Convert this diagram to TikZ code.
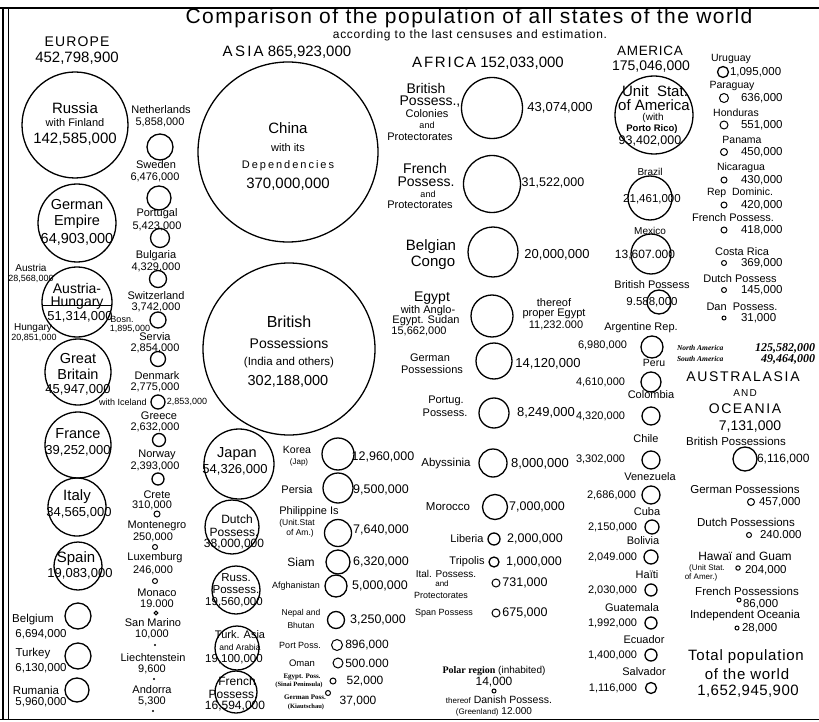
\documentclass[tikz,border=0pt]{standalone}
\usepackage{fontspec}
\setmainfont{Liberation Sans}
\newfontfamily\oldserif{Liberation Serif}
\newcommand\fz[1]{\fontsize{#1}{#1}\selectfont}
\newcommand\ls[1]{\addfontfeature{LetterSpace=#1}}
\begin{document}
\begin{tikzpicture}[x=1pt,y=-1pt,
  ball/.style={circle,draw,line width=1.3pt,inner sep=0pt,outer sep=0pt},
  sball/.style={circle,draw,line width=1pt,inner sep=0pt,outer sep=0pt},
  dotb/.style={circle,fill,inner sep=0pt,minimum size=2.4pt},
  lbl/.style={inner sep=0pt,outer sep=0pt,align=center,font=\fz{11}},
  frameline/.style={line width=1.2pt}]
\newcommand\bigc[4]{\node[ball,minimum size=#4*2pt] (#1) at (#2,#3) {};}
\newcommand\smc[4]{\node[sball,minimum size=#4*2pt] (#1) at (#2,#3) {};}
\newcommand\dotc[3]{\node[dotb] (#1) at (#2,#3) {};}
\newcommand\tx[5][]{\node[lbl,#1] (#2) at (#3,#4) {#5};}
\useasboundingbox (0,0) rectangle (819,722);
% frame
\draw[line width=2pt] (0,8) -- (819,8);
\draw[line width=1.6pt] (3,8) -- (3,719);
\draw[line width=0.8pt] (8,8) -- (8,719);
\draw[line width=1pt] (0,719) -- (819,719);
% title
\tx[font=\fz{21}\ls{7}]{title}{469}{18}{Comparison of the population of all states of the world}
\tx[font=\fz{12}\ls{6}]{sub}{470}{35}{according to the last censuses and estimation.}
% ===== EUROPE =====
\tx[font=\fz{14}\ls{8}]{eu}{77}{42}{EUROPE}
\tx[font=\fz{15}]{eun}{77}{58}{452,798,900}
\bigc{russia}{75}{125}{53}
\tx[font=\fz{15}]{rus1}{75}{108}{Russia}
\tx[font=\fz{11}]{rus2}{75}{123}{with Finland}
\tx[font=\fz{15}]{rus3}{75}{139}{142,585,000}
\bigc{germ}{77}{223}{39}
\tx[font=\fz{14.5}]{ge1}{77}{205}{German}
\tx[font=\fz{14.5}]{ge2}{77}{222}{Empire}
\tx[font=\fz{14.5}]{ge3}{77}{239}{64,903,000}
\bigc{ah}{77}{302}{35}
\draw[line width=1.1pt] (ah.186) -- (ah.354);
\tx[font=\fz{14}]{ah1}{77}{288}{Austria-}
\tx[font=\fz{14}]{ah2}{77}{303}{Hungary}
\tx[font=\fz{13}]{ah3}{80}{317}{51,314,000}
\tx[font=\fz{10}]{aus1}{31}{268}{Austria}
\tx[font=\fz{9}]{aus2}{31}{279}{28,568,000}
\tx[font=\fz{10}]{hun1}{33}{328}{Hungary}
\tx[font=\fz{9}]{hun2}{34}{338}{20,851,000}
\tx[font=\fz{9}]{bos1}{122}{319}{Bosn.}
\tx[font=\fz{9}]{bos2}{130}{329}{1,895,000}
\bigc{gb}{78}{372}{33}
\tx[font=\fz{14.5}]{gb1}{78}{359}{Great}
\tx[font=\fz{14.5}]{gb2}{78}{374}{Britain}
\tx[font=\fz{13}]{gb3}{78}{390}{45,947,000}
\bigc{fr}{78}{445}{33}
\tx[font=\fz{14.5}]{fr1}{78}{434}{France}
\tx[font=\fz{13}]{fr2}{78}{451}{39,252,000}
\bigc{it}{77}{507}{29}
\tx[font=\fz{15}]{it1}{77}{497}{Italy}
\tx[font=\fz{13}]{it2}{79}{513}{34,565,000}
\bigc{sp}{78}{566}{24}
\tx[font=\fz{15}]{sp1}{76}{559}{Spain}
\tx[font=\fz{13}]{sp2}{80}{574}{19,083,000}
\bigc{be}{78}{616}{13}
\tx[font=\fz{11.5}]{be1}{33}{620}{Belgium}
\tx[font=\fz{11.5}]{be2}{41}{634}{6,694,000}
\bigc{tu}{78}{656}{13}
\tx[font=\fz{11.5}]{tu1}{33}{654}{Turkey}
\tx[font=\fz{11.5}]{tu2}{41}{668}{6,130,000}
\bigc{rm}{77}{690}{12}
\tx[font=\fz{11.5}]{rm1}{36}{690}{Rumania}
\tx[font=\fz{11.5}]{rm2}{41}{702}{5,960,000}
% Europe second column
\tx{nl1}{161}{110}{Netherlands}
\tx{nl2}{160}{122}{5,858,000}
\bigc{nl}{160}{147}{13}
\tx{se1}{156}{165}{Sweden}
\tx{se2}{155}{177}{6,476,000}
\bigc{se}{159}{198}{12}
\tx{pt1}{157}{214}{Portugal}
\tx{pt2}{157}{226}{5,423,000}
\bigc{pt}{160}{238}{9.5}
\tx{bg1}{156}{256}{Bulgaria}
\tx{bg2}{156}{267}{4,329,000}
\bigc{bg}{158}{279}{8.5}
\tx{chc1}{156}{296}{Switzerland}
\tx{chc2}{156}{307}{3,742,000}
\bigc{chc}{158}{320}{8}
\tx{rs1}{155}{337}{Servia}
\tx{rs2}{155}{348}{2,854,000}
\bigc{rs}{158}{359}{7.5}
\tx{dk1}{157}{376}{Denmark}
\tx{dk2}{155}{387}{2,775,000}
\bigc{dk}{158}{402}{7}
\tx[font=\fz{9}]{dk3}{123}{402}{with Iceland}
\tx[font=\fz{9}]{dk4}{187}{402}{2,853,000}
\tx{gr1}{159}{416}{Greece}
\tx{gr2}{155}{427}{2,632,000}
\bigc{gr}{159}{440}{6.5}
\tx{no1}{157}{455}{Norway}
\tx{no2}{155}{466}{2,393,000}
\bigc{no}{158}{479}{6}
\tx{cr1}{157}{495}{Crete}
\tx{cr2}{152}{505}{310,000}
\smc{cr}{157}{514}{3}
\tx{mn1}{157}{526}{Montenegro}
\tx{mn2}{153}{537}{250,000}
\smc{mn}{155}{547}{2.5}
\tx{lu1}{155}{558}{Luxemburg}
\tx{lu2}{153}{570}{246,000}
\smc{lu}{155}{581}{2.5}
\tx{mc1}{157}{593}{Monaco}
\tx{mc2}{157}{604}{19.000}
\smc{mc}{156}{613}{1.8}
\tx{sm1}{153}{623}{San Marino}
\tx{sm2}{152}{634}{10,000}
\dotc{sm}{155}{645}
\tx{li1}{153}{658}{Liechtenstein}
\tx{li2}{152}{669}{9,600}
\dotc{li}{154}{679}
\tx{ad1}{152}{690}{Andorra}
\tx{ad2}{152}{701}{5,300}
\dotc{ad}{153}{711}
% ===== ASIA =====
\tx[font=\fz{15}]{as}{287}{52}{{\ls{15}ASIA} 865,923,000}
\bigc{cn}{288}{152}{90}
\tx[font=\fz{15}]{cn1}{288}{128}{China}
\tx[font=\fz{11}]{cn2}{288}{148}{with its}
\tx[font=\fz{11}\ls{18}]{cn3}{288}{166}{Dependencies}
\tx[font=\fz{15}]{cn4}{288}{184}{370,000,000}
\bigc{bp}{289}{349}{86}
\tx[font=\fz{16}]{bp1}{289}{322}{British}
\tx[font=\fz{14}]{bp2}{289}{343}{Possessions}
\tx[font=\fz{11.5}]{bp3}{289}{363}{(India and others)}
\tx[font=\fz{14.5}]{bp4}{288}{381}{302,188,000}
\bigc{jp}{239}{464}{35}
\tx[font=\fz{14.5}]{jp1}{237}{454}{Japan}
\tx[font=\fz{13}]{jp2}{235}{470}{54,326,000}
\tx[font=\fz{10.5}]{ko1}{297}{450}{Korea}
\tx[font=\fz{8}]{ko2}{299}{462}{(Jap)}
\bigc{ko}{338}{454}{16}
\tx[font=\fz{12.5}]{ko3}{383}{457}{12,960,000}
\tx[font=\fz{11}]{pe1}{297}{490}{Persia}
\bigc{pe}{338}{488}{15}
\tx[font=\fz{12.5}]{pe2}{381}{490}{9,500,000}
\bigc{du}{232}{527}{27}
\tx[font=\fz{12}]{du1}{237}{519}{Dutch}
\tx[font=\fz{12}]{du2}{234}{532}{Possess.}
\tx[font=\fz{12}]{du3}{234}{544}{38,000,000}
\tx[font=\fz{11}]{ph1}{309}{512}{Philippine Is}
\tx[font=\fz{8.5}]{ph2}{297}{523}{(Unit.Stat}
\tx[font=\fz{8.5}]{ph3}{300}{533}{of Am.)}
\bigc{ph}{338}{533}{13.5}
\tx[font=\fz{12.5}]{ph4}{381}{530}{7,640,000}
\tx[font=\fz{12}]{si1}{301}{562}{Siam}
\bigc{si}{338}{562}{12}
\tx[font=\fz{12.5}]{si2}{381}{562}{6,320,000}
\bigc{ru}{236}{590}{24}
\tx[font=\fz{11.5}]{ru1}{236}{578}{Russ.}
\tx[font=\fz{11.5}]{ru2}{236}{590}{Possess.}
\tx[font=\fz{11.5}]{ru3}{234}{602}{19,560,000}
\tx[font=\fz{9}]{af1}{296}{586}{Afghanistan}
\bigc{af}{336}{586}{11}
\tx[font=\fz{12.5}]{af2}{380}{586}{5,000,000}
\tx[font=\fz{8.5}]{np1}{301}{613}{Nepal and}
\tx[font=\fz{8.5}]{np2}{301}{625}{Bhutan}
\bigc{np}{336}{620}{8.5}
\tx[font=\fz{12.5}]{np3}{378}{620}{3,250,000}
\bigc{tk}{237}{648}{22}
\tx[font=\fz{11}]{tk1}{240}{635}{Turk. Asia}
\tx[font=\fz{8.5}]{tk2}{240}{647}{and Arabia}
\tx[font=\fz{11.5}]{tk3}{234}{659}{19,100,000}
\tx[font=\fz{9}]{po1}{300}{645}{Port Poss.}
\smc{po}{337}{645}{5.5}
\tx[font=\fz{12}]{po2}{367}{645}{896,000}
\tx[font=\fz{9.5}]{om1}{302}{663}{Oman}
\smc{om}{338}{663}{5}
\tx[font=\fz{12}]{om2}{367}{663}{500.000}
\tx[font=\fz{7}\oldserif\bfseries]{eg1}{302}{677}{Egypt. Poss.}
\tx[font=\fz{6.5}\oldserif\bfseries]{eg2}{299}{685}{(Sinai Peninsula)}
\smc{eg}{333}{681}{3}
\tx[font=\fz{12}]{eg3}{365}{681}{52,000}
\tx[font=\fz{7}\oldserif\bfseries]{gp1}{305}{697}{German Poss.}
\tx[font=\fz{6.5}\oldserif\bfseries]{gp2}{306}{707}{(Kiautschau)}
\smc{gp}{328}{693}{2.5}
\tx[font=\fz{12}]{gp3}{358}{701}{37,000}
\bigc{fp}{236}{692}{21}
\tx[font=\fz{12}]{fp1}{237}{681}{French}
\tx[font=\fz{12}]{fp2}{233}{694}{Possess.}
\tx[font=\fz{12}]{fp3}{235}{706}{16,594,000}
% ===== AFRICA =====
\tx[font=\fz{15}]{afr}{488}{63}{{\ls{12}AFRICA} 152,033,000}
\bigc{abr}{492}{108}{30.5}
\tx[font=\fz{14}]{abr1}{426}{88}{British}
\tx[font=\fz{14}]{abr2}{430}{102}{Possess.,}
\tx[font=\fz{11}]{abr3}{427}{114}{Colonies}
\tx[font=\fz{9}]{abr4}{427}{125}{and}
\tx[font=\fz{11}]{abr5}{420}{137}{Protectorates}
\tx[font=\fz{13}]{abr6}{560}{108}{43,074,000}
\bigc{afp}{492}{184}{28.5}
\tx[font=\fz{14}]{afp1}{425}{168}{French}
\tx[font=\fz{14}]{afp2}{426}{182}{Possess.}
\tx[font=\fz{9}]{afp3}{428}{194}{and}
\tx[font=\fz{11}]{afp4}{420}{205}{Protectorates}
\tx[font=\fz{12.5}]{afp5}{553}{183}{31,522,000}
\bigc{bc}{493}{252}{25}
\tx[font=\fz{15}]{bc1}{431}{247}{Belgian}
\tx[font=\fz{15}]{bc2}{433}{263}{Congo}
\tx[font=\fz{13}]{bc3}{557}{255}{20,000,000}
\bigc{egy}{492}{316}{21}
\tx[font=\fz{14}]{egy1}{432}{298}{Egypt}
\tx[font=\fz{11}]{egy2}{428}{311}{with Anglo-}
\tx[font=\fz{11}]{egy3}{426}{321}{Egypt. Sudan}
\tx[font=\fz{11}]{egy4}{419}{331}{15,662,000}
\tx[font=\fz{11}]{egy5}{554}{303}{thereof}
\tx[font=\fz{11}]{egy6}{554}{314}{proper Egypt}
\tx[font=\fz{11}]{egy7}{556}{325}{11,232.000}
\bigc{gpa}{494}{361}{18}
\tx[font=\fz{11}]{gpa1}{430}{358}{German}
\tx[font=\fz{11}]{gpa2}{432}{370}{Possessions}
\tx[font=\fz{13}]{gpa3}{548}{364}{14,120,000}
\bigc{ptg}{494}{413}{15}
\tx[font=\fz{11}]{ptg1}{446}{401}{Portug.}
\tx[font=\fz{11}]{ptg2}{445}{413}{Possess.}
\tx[font=\fz{13}]{ptg3}{546}{413}{8,249,000}
\bigc{aby}{493}{463}{14}
\tx[font=\fz{11.5}]{aby1}{446}{464}{Abyssinia}
\tx[font=\fz{13}]{aby2}{540}{464}{8,000,000}
\bigc{mor}{495}{507}{12.5}
\tx[font=\fz{11.5}]{mor1}{448}{507}{Morocco}
\tx[font=\fz{12.5}]{mor2}{537}{507}{7,000,000}
\tx[font=\fz{11}]{lib1}{467}{539}{Liberia}
\bigc{lib}{494}{539}{6}
\tx[font=\fz{12.5}]{lib2}{535}{539}{2,000,000}
\tx[font=\fz{11}]{tri1}{467}{562}{Tripolis}
\bigc{tri}{494}{562}{5}
\tx[font=\fz{12.5}]{tri2}{534}{562}{1,000,000}
\tx[font=\fz{10}]{ita1}{446}{574}{Ital. Possess.}
\tx[font=\fz{8}]{ita2}{442}{584}{and}
\tx[font=\fz{9}]{ita3}{441}{595}{Protectorates}
\smc{ita}{496}{583}{4}
\tx[font=\fz{12.5}]{ita4}{525}{583}{731,000}
\tx[font=\fz{9}]{spa1}{444}{613}{Span Possess}
\smc{spa}{496}{613}{4}
\tx[font=\fz{12.5}]{spa2}{525}{613}{675,000}
\tx[font=\fz{10}]{pol1}{494}{671}{{\oldserif\bfseries Polar region} (inhabited)}
\tx[font=\fz{12}]{pol2}{494}{682}{14,000}
\smc{pol}{494}{691}{2}
\tx[font=\fz{10.5}]{pol3}{499}{700}{{\fz{8}thereof} Danish Possess.}
\tx[font=\fz{10}]{pol4}{494}{712}{{\fz{8}(Greenland)} 12.000}
% ===== AMERICA =====
\tx[font=\fz{13.5}\ls{5}]{am1}{650}{51}{AMERICA}
\tx[font=\fz{14}]{am2}{651}{67}{175,046,000}
\bigc{usa}{654}{115}{39}
\tx[font=\fz{15}]{usa1}{655}{91}{Unit\ \ Stat.}
\tx[font=\fz{15}]{usa2}{654}{105}{of America}
\tx[font=\fz{10}]{usa3}{653}{118}{(with}
\tx[font=\fz{9.5}\bfseries]{usa4}{652}{129}{Porto Rico)}
\tx[font=\fz{12.5}]{usa5}{650}{141}{93,402,000}
\tx[font=\fz{10}]{br1}{650}{172}{Brazil}
\bigc{br}{650}{198}{22}
\tx[font=\fz{11.5}]{br2}{652}{199}{21,461,000}
\tx[font=\fz{10}]{mx1}{650}{231}{Mexico}
\bigc{mx}{651}{254}{20}
\tx[font=\fz{12}]{mx2}{645}{255}{13,607.000}
\tx[font=\fz{11}]{bpa1}{652}{285}{British Possess}
\bigc{bpa}{659}{302}{12}
\tx[font=\fz{11.5}]{bpa2}{652}{302}{9.588,000}
\tx[font=\fz{11}]{arg1}{641}{328}{Argentine Rep.}
\bigc{arg}{652}{347}{11}
\tx[font=\fz{11},anchor=east]{arg2}{627}{345}{6,980,000}
\tx[font=\fz{10.5}]{peru1}{654}{363}{Peru}
\bigc{peru}{651}{382}{10}
\tx[font=\fz{11},anchor=east]{peru2}{625}{382}{4,610,000}
\tx[font=\fz{11}]{col1}{651}{395}{Colombia}
\bigc{col}{651}{416}{9}
\tx[font=\fz{11},anchor=east]{col2}{625}{416}{4,320,000}
\tx[font=\fz{11}]{chl1}{646}{439}{Chile}
\bigc{chl}{651}{460}{9}
\tx[font=\fz{11},anchor=east]{chl2}{625}{459}{3,302,000}
\tx[font=\fz{11}]{ven1}{650}{477}{Venezuela}
\bigc{ven}{651}{495}{9}
\tx[font=\fz{11},anchor=east]{ven2}{636}{495}{2,686,000}
\tx[font=\fz{11}]{cu1}{647}{512}{Cuba}
\bigc{cu}{652}{527}{7}
\tx[font=\fz{11},anchor=east]{cu2}{637}{527}{2,150,000}
\tx[font=\fz{11}]{bo1}{643}{541}{Bolivia}
\bigc{bo}{651}{557}{7}
\tx[font=\fz{11},anchor=east]{bo2}{637}{557}{2,049.000}
\tx[font=\fz{11}]{ht1}{647}{575}{Haïti}
\bigc{ht}{651}{590}{6}
\tx[font=\fz{11},anchor=east]{ht2}{637}{590}{2,030,000}
\tx[font=\fz{11}]{gt1}{632}{608}{Guatemala}
\bigc{gt}{651}{623}{6}
\tx[font=\fz{11},anchor=east]{gt2}{637}{623}{1,992,000}
\tx[font=\fz{11}]{ec1}{644}{640}{Ecuador}
\bigc{ec}{651}{655}{6}
\tx[font=\fz{11},anchor=east]{ec2}{637}{655}{1,400,000}
\tx[font=\fz{11}]{sv1}{644}{672}{Salvador}
\bigc{sv}{651}{688}{5.5}
\tx[font=\fz{11},anchor=east]{sv2}{637}{688}{1,116,000}
% America right column
\tx[font=\fz{10.5}]{uy1}{731}{59}{Uruguay}
\bigc{uy}{723}{72}{5.5}
\tx[font=\fz{11.5},anchor=west]{uy2}{730}{72}{1,095,000}
\tx[font=\fz{10.5}]{pyg1}{732}{86}{Paraguay}
\smc{pyg}{724}{98}{4.5}
\tx[font=\fz{11.5},anchor=west]{pyg2}{741}{98}{636,000}
\tx[font=\fz{10.5}]{hn1}{736}{113}{Honduras}
\smc{hn}{724}{125}{4}
\tx[font=\fz{11.5},anchor=west]{hn2}{741}{125}{551,000}
\tx[font=\fz{10.5}]{pa1}{742}{140}{Panama}
\smc{pa}{724}{152}{3.5}
\tx[font=\fz{11.5},anchor=west]{pa2}{741}{152}{450,000}
\tx[font=\fz{10.5}]{nic1}{741}{168}{Nicaragua}
\smc{nic}{724}{180}{3}
\tx[font=\fz{11.5},anchor=west]{nic2}{741}{180}{430,000}
\tx[font=\fz{10.5}]{rd1}{740}{193}{Rep\ \ Dominic.}
\smc{rd}{724}{205}{3}
\tx[font=\fz{11.5},anchor=west]{rd2}{741}{205}{420,000}
\tx[font=\fz{11}]{amfp1}{733}{218}{French Possess.}
\smc{amfp}{724}{230}{3}
\tx[font=\fz{11.5},anchor=west]{amfp2}{741}{230}{418,000}
\tx[font=\fz{11}]{cri1}{742}{252}{Costa Rica}
\smc{cri}{724}{263}{2.5}
\tx[font=\fz{11.5},anchor=west]{cri2}{741}{263}{369,000}
\tx[font=\fz{11}]{amdp1}{740}{279}{Dutch Possess}
\smc{amdp}{724}{290}{2.5}
\tx[font=\fz{11.5},anchor=west]{amdp2}{741}{290}{145,000}
\tx[font=\fz{11}]{dan1}{742}{307}{Dan\ \ Possess.}
\smc{dan}{724}{318}{2}
\tx[font=\fz{11.5},anchor=west]{dan2}{741}{318}{31,000}
\tx[font=\fz{7.5}\oldserif\bfseries\itshape,anchor=west]{na1}{677}{348}{North America}
\tx[font=\fz{12}\oldserif\bfseries\itshape,anchor=east]{na2}{815}{348}{125,582,000}
\tx[font=\fz{7.5}\oldserif\bfseries\itshape,anchor=west]{sa1}{677}{359}{South America}
\tx[font=\fz{12}\oldserif\bfseries\itshape,anchor=east]{sa2}{815}{359}{49,464,000}
% ===== AUSTRALASIA =====
\tx[font=\fz{14}\ls{12}]{au1}{743}{377}{AUSTRALASIA}
\tx[font=\fz{10}\ls{12}]{au2}{745}{393}{AND}
\tx[font=\fz{14}\ls{11}]{au3}{745}{409}{OCEANIA}
\tx[font=\fz{14}]{au4}{750}{427}{7,131,000}
\tx[font=\fz{11.5}]{obp1}{736}{441}{British Possessions}
\bigc{obp}{745}{459}{12}
\tx[font=\fz{12},anchor=west]{obp2}{757}{459}{6,116,000}
\tx[font=\fz{11.5}]{ogp1}{745}{489}{German Possessions}
\smc{ogp}{751}{502}{3.5}
\tx[font=\fz{11.5},anchor=west]{ogp2}{759}{502}{457,000}
\tx[font=\fz{11.5}]{odp1}{746}{522}{Dutch Possessions}
\smc{odp}{749}{535}{2.5}
\tx[font=\fz{11.5},anchor=west]{odp2}{760}{535}{240.000}
\tx[font=\fz{12}]{ohg1}{745}{556}{Hawaï and Guam}
\tx[font=\fz{8}]{ohg2}{707}{568}{(Unit Stat.}
\tx[font=\fz{8}]{ohg3}{701}{577}{of Amer.)}
\smc{ohg}{738}{568}{2.2}
\tx[font=\fz{11.5},anchor=west]{ohg4}{745}{570}{204,000}
\tx[font=\fz{11.5}]{ofp1}{747}{591}{French Possessions}
\smc{ofp}{739}{600}{2}
\tx[font=\fz{11.5},anchor=west]{ofp2}{743}{604}{86,000}
\tx[font=\fz{11.5}]{oio1}{745}{616}{Independent Oceania}
\smc{oio}{737}{628}{2}
\tx[font=\fz{11.5},anchor=west]{oio2}{742}{628}{28,000}
\tx[font=\fz{15}\ls{5}]{tot1}{746}{657}{Total population}
\tx[font=\fz{15}\ls{5}]{tot2}{747}{674}{of the world}
\tx[font=\fz{15}\ls{3}]{tot3}{748}{691}{1,652,945,900}
\end{tikzpicture}
\end{document}
